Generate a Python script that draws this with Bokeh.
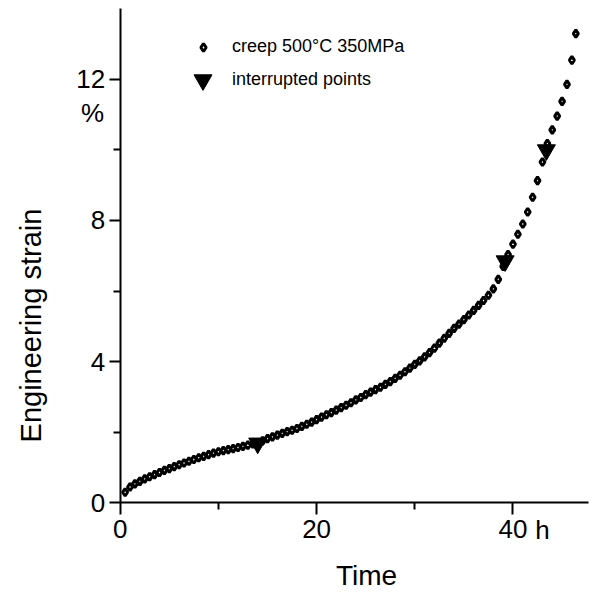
import math
from bokeh.plotting import figure
from bokeh.models import FixedTicker, Label, Legend, LegendItem, Range1d, LinearAxis
from bokeh.embed import file_html
from bokeh.resources import INLINE

# ---- data ----
time_h = [0.5, 1.0, 1.5, 2.0, 2.5, 3.0, 3.5, 4.0, 4.5, 5.0,
          5.5, 6.0, 6.5, 7.0, 7.5, 8.0, 8.5, 9.0, 9.5, 10.0,
          10.5, 11.0, 11.5, 12.0, 12.5, 13.0, 13.5, 14.0, 14.5, 15.0,
          15.5, 16.0, 16.5, 17.0, 17.5, 18.0, 18.5, 19.0, 19.5, 20.0,
          20.5, 21.0, 21.5, 22.0, 22.5, 23.0, 23.5, 24.0, 24.5, 25.0,
          25.5, 26.0, 26.5, 27.0, 27.5, 28.0, 28.5, 29.0, 29.5, 30.0,
          30.5, 31.0, 31.5, 32.0, 32.5, 33.0, 33.5, 34.0, 34.5, 35.0,
          35.5, 36.0, 36.5, 37.0, 37.5, 38.0, 38.5, 39.0, 39.5, 40.0,
          40.5, 41.0, 41.5, 42.0, 42.5, 43.0, 43.5, 44.0, 44.5, 45.0,
          45.5, 46.0, 46.4]
strain_pct = [0.29, 0.44, 0.53, 0.60, 0.67, 0.73, 0.79, 0.85, 0.91, 0.96,
              1.02, 1.07, 1.12, 1.17, 1.22, 1.27, 1.31, 1.36, 1.40, 1.44,
              1.47, 1.50, 1.53, 1.56, 1.59, 1.63, 1.66, 1.70, 1.75, 1.81,
              1.86, 1.91, 1.96, 2.01, 2.05, 2.10, 2.16, 2.22, 2.28, 2.35,
              2.42, 2.49, 2.55, 2.62, 2.69, 2.76, 2.83, 2.91, 2.98, 3.06,
              3.13, 3.20, 3.27, 3.35, 3.43, 3.52, 3.61, 3.71, 3.81, 3.92,
              4.02, 4.13, 4.25, 4.38, 4.52, 4.66, 4.80, 4.94, 5.06, 5.19,
              5.32, 5.45, 5.59, 5.73, 5.88, 6.06, 6.33, 6.70, 7.03, 7.33,
              7.61, 7.90, 8.24, 8.66, 9.13, 9.66, 10.18, 10.57, 10.96, 11.38,
              11.86, 12.55, 13.30]

interrupt_time = [14.0, 39.2, 43.4]
interrupt_strain = [1.68, 6.85, 10.0]

x_ticks = [0, 20, 40]
x_minor = [10, 30]
y_ticks = [0, 4, 8, 12]
y_minor = [2, 6, 10]
x_axis_end = 47.7
y_axis_end = 14

series_label = "creep 500°C 350MPa"
interrupt_label = "interrupted points"
x_title = "Time"
y_title = "Engineering strain"
y_unit = "%"
x_unit = "h"

FONT = "Liberation Sans"

# The frame spans the whole canvas; the axes sit at data 0 (fixed_location)
p = figure(width=604, height=592, output_backend="svg", toolbar_location=None,
           x_range=Range1d(-12.19, 49.32), y_range=Range1d(-2.553, 14.241),
           x_axis_location=None, y_axis_location=None,
           min_border=0, min_border_left=0, min_border_right=0,
           min_border_top=0, min_border_bottom=0)
p.xgrid.grid_line_color = None
p.ygrid.grid_line_color = None
p.outline_line_color = None
p.background_fill_color = "white"
p.border_fill_color = "white"

xaxis = LinearAxis(fixed_location=0, bounds=(0, x_axis_end),
                   ticker=FixedTicker(ticks=x_ticks, minor_ticks=x_minor))
yaxis = LinearAxis(fixed_location=0, bounds=(0, y_axis_end),
                   ticker=FixedTicker(ticks=y_ticks, minor_ticks=y_minor))
for ax in (xaxis, yaxis):
    ax.axis_line_width = 2
    ax.axis_line_color = "black"
    ax.major_tick_line_width = 2
    ax.minor_tick_line_width = 2
    ax.major_tick_line_color = "black"
    ax.minor_tick_line_color = "black"
    ax.major_tick_in = 0
    ax.minor_tick_in = 0
    ax.major_label_text_font = FONT
    ax.major_label_text_font_size = "26px"
    ax.major_label_text_color = "black"
xaxis.major_tick_out = 12
xaxis.minor_tick_out = 7
yaxis.major_tick_out = 11
yaxis.minor_tick_out = 7
xaxis.major_label_standoff = 5
yaxis.major_label_standoff = 4
p.add_layout(xaxis, "below")
p.add_layout(yaxis, "left")

r1 = p.scatter(time_h, strain_pct, marker="diamond", size=7.5,
               line_color="black", line_width=3, fill_color="white")
r2 = p.scatter(interrupt_time, interrupt_strain, marker="inverted_triangle",
               size=18, line_color="black", fill_color="black")

leg_common = dict(background_fill_alpha=0, border_line_color=None, padding=0,
                  margin=0, label_text_font=FONT, label_text_font_size="18px",
                  label_text_color="black", label_height=20)
legend1 = Legend(items=[LegendItem(label=series_label, renderers=[r1])],
                 location=(193, 535), glyph_width=20, glyph_height=20,
                 label_standoff=19, **leg_common)
legend2 = Legend(items=[LegendItem(label=interrupt_label, renderers=[r2])],
                 location=(180, 490), glyph_width=45, glyph_height=45,
                 label_standoff=7, **leg_common)
p.add_layout(legend1)
p.add_layout(legend2)

p.add_layout(Label(x=-9.13, y=5.02, text=y_title, angle=math.pi / 2,
                   text_align="center", text_baseline="middle",
                   text_font=FONT, text_font_size="29px", text_color="black"))
p.add_layout(Label(x=25.08, y=-2.07, text=x_title,
                   text_align="center", text_baseline="middle",
                   text_font=FONT, text_font_size="28px", text_color="black"))
p.add_layout(Label(x=-2.81, y=11.04, text=y_unit,
                   text_align="center", text_baseline="middle",
                   text_font=FONT, text_font_size="26px", text_color="black"))
p.add_layout(Label(x=42.26, y=-0.35, text=x_unit,
                   text_align="left", text_baseline="top",
                   text_font=FONT, text_font_size="26px", text_color="black"))

open("out.html", "w").write(file_html(p, INLINE))
